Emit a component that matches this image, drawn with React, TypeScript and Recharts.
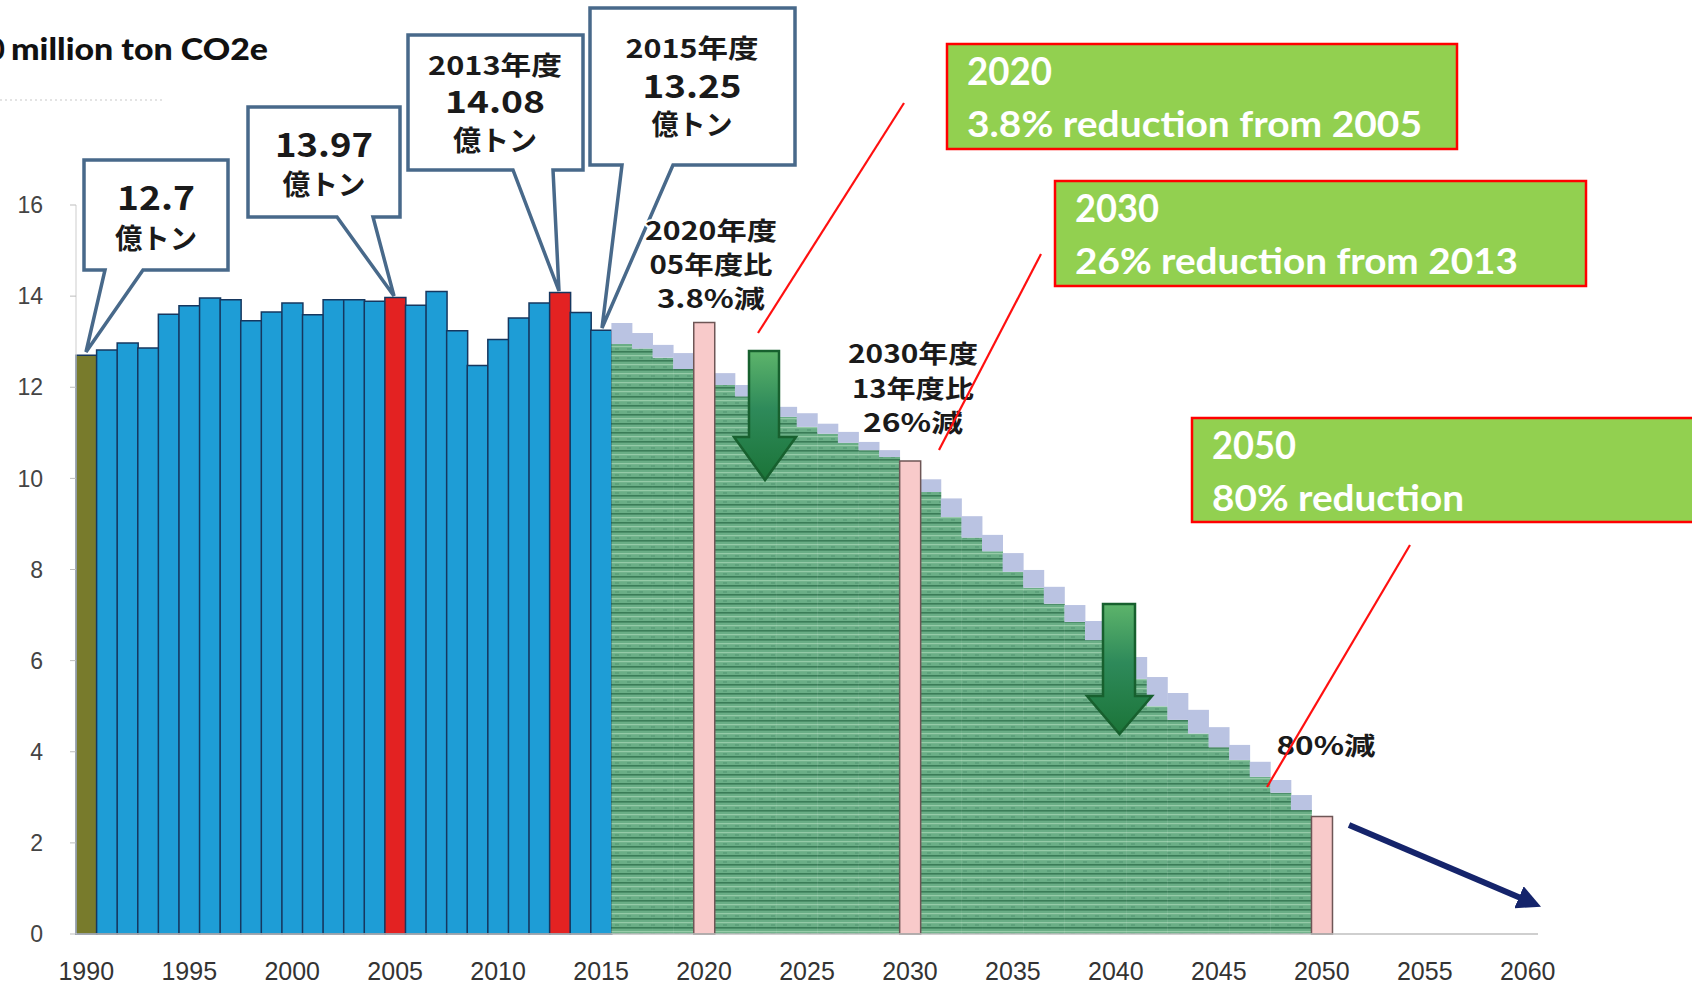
import React from 'react';
import { ComposedChart, Bar, XAxis, YAxis, Cell } from 'recharts';

// ---- data ----
const axisStartYear = 1990;
const axisEndYear = 2060;
const yTicks = [0, 2, 4, 6, 8, 10, 12, 14, 16];

const historicalYears = [
  1990, 1991, 1992, 1993, 1994, 1995, 1996, 1997, 1998, 1999, 2000, 2001, 2002,
  2003, 2004, 2005, 2006, 2007, 2008, 2009, 2010, 2011, 2012, 2013, 2014, 2015,
];
const historicalValues = [
  12.7, 12.82, 12.97, 12.86, 13.6, 13.79, 13.96, 13.92, 13.46, 13.65, 13.85, 13.59, 13.92,
  13.92, 13.89, 13.97, 13.8, 14.1, 13.24, 12.48, 13.05, 13.52, 13.85, 14.08, 13.64, 13.25,
];
const baseYear = 1990;
const highlightYears = [2005, 2013];

const pathwayYears = [
  2016, 2017, 2018, 2019, 2020, 2021, 2022, 2023, 2024, 2025, 2026, 2027, 2028, 2029,
  2030, 2031, 2032, 2033, 2034, 2035, 2036, 2037, 2038, 2039, 2040, 2041, 2042, 2043,
  2044, 2045, 2046, 2047, 2048, 2049,
];
const pathwayCore = [
  12.95, 12.85, 12.65, 12.4, null, 12.05, 11.8, 11.57, 11.35, 11.13, 10.98, 10.78, 10.62, 10.47,
  null, 9.7, 9.15, 8.7, 8.4, 7.95, 7.6, 7.25, 6.85, 6.45, 6.05, 5.6, 5.0, 4.7,
  4.4, 4.1, 3.82, 3.45, 3.1, 2.72,
];
const pathwayUpper = [
  13.41, 13.19, 12.93, 12.75, null, 12.31, 12.05, 11.79, 11.57, 11.43, 11.2, 11.02, 10.8, 10.62,
  null, 9.98, 9.56, 9.17, 8.76, 8.36, 7.99, 7.62, 7.22, 6.87, 6.45, 6.08, 5.64, 5.29,
  4.92, 4.54, 4.15, 3.78, 3.38, 3.05,
];

const milestoneYears = [2020, 2030, 2050];
const milestoneValues = [13.42, 10.38, 2.58];

// ---- table for recharts ----
const years: number[] = [];
for (let y = axisStartYear; y <= axisEndYear; y++) years.push(y);

const data = years.map((year) => {
  const hi = historicalYears.indexOf(year);
  const pi = pathwayYears.indexOf(year);
  const mi = milestoneYears.indexOf(year);
  const core = pi >= 0 ? pathwayCore[pi] : null;
  const upper = pi >= 0 ? pathwayUpper[pi] : null;
  return {
    year,
    hist: hi >= 0 ? historicalValues[hi] : null,
    core,
    fringe: core != null && upper != null ? Math.round((upper - core) * 1000) / 1000 : null,
    goal: mi >= 0 ? milestoneValues[mi] : null,
  };
});

const histColor = (year: number) =>
  year === baseYear ? '#787B2C' : highlightYears.includes(year) ? '#E32222' : '#1E9DD6';

// ---- annotation helpers ----
const bubblePath = (
  x0: number, y0: number, x1: number, y1: number,
  b0: number, b1: number, tx: number, ty: number,
) => `M${x0},${y0} H${x1} V${y1} H${b1} L${tx},${ty} L${b0},${y1} H${x0} Z`;

const JP = '"Noto Sans CJK JP", "Noto Sans CJK SC", sans-serif';
const LAT = 'Lato, "Open Sans", sans-serif';

type TL = { t: string; x: number; y: number; s: number; w: number };

const BubbleText = ({ lines }: { lines: TL[] }) => (
  <>
    {lines.map((l, i) => (
      <text
        key={i}
        x={l.x}
        y={l.y}
        fontSize={l.s}
        fontFamily={JP}
        fontWeight={700}
        fill="#1a1a1a"
        textAnchor="middle"
        textLength={l.w}
        lengthAdjust="spacingAndGlyphs"
      >
        {l.t}
      </text>
    ))}
  </>
);

const HaloText = ({ lines }: { lines: TL[] }) => (
  <>
    {lines.map((l, i) => (
      <text
        key={i}
        x={l.x}
        y={l.y}
        fontSize={l.s}
        fontFamily={JP}
        fontWeight={700}
        fill="#1a1a1a"
        stroke="#ffffff"
        strokeWidth={4}
        paintOrder="stroke"
        textAnchor="middle"
        textLength={l.w}
        lengthAdjust="spacingAndGlyphs"
      >
        {l.t}
      </text>
    ))}
  </>
);

const GreenBox = ({
  x, y, w, h, l1, l2, w1, w2,
}: { x: number; y: number; w: number; h: number; l1: string; l2: string; w1: number; w2: number }) => (
  <g>
    <rect x={x} y={y} width={w} height={h} fill="#92D050" stroke="#FF0000" strokeWidth={2.5} />
    <text x={x + 20} y={y + 41} fontSize={38} fontFamily={LAT} fontWeight={700} fill="#ffffff"
      textLength={w1} lengthAdjust="spacingAndGlyphs">{l1}</text>
    <text x={x + 20} y={y + 93} fontSize={37} fontFamily={LAT} fontWeight={700} fill="#ffffff"
      textLength={w2} lengthAdjust="spacingAndGlyphs">{l2}</text>
  </g>
);

const DownArrow = ({
  sx0, sx1, top, hx0, hx1, hy, tip, id,
}: { sx0: number; sx1: number; top: number; hx0: number; hx1: number; hy: number; tip: number; id: string }) => {
  const cx = (hx0 + hx1) / 2;
  return (
    <g>
      <defs>
        <linearGradient id={id} x1="0" y1="0" x2="0" y2="1">
          <stop offset="0%" stopColor="#5DB46B" />
          <stop offset="45%" stopColor="#2E8A5A" />
          <stop offset="100%" stopColor="#1B7438" />
        </linearGradient>
      </defs>
      <path
        d={`M${sx0},${top} H${sx1} V${hy} H${hx1} L${cx},${tip} L${hx0},${hy} H${sx0} Z`}
        fill={`url(#${id})`}
        stroke="#17602E"
        strokeWidth={2.5}
      />
    </g>
  );
};

export default function App() {
  return (
    <div style={{ position: 'absolute', left: 0, top: 0, width: 1692, height: 984, overflow: 'hidden', background: '#fff' }}>
      <ComposedChart
        width={1692}
        height={984}
        data={data}
        margin={{ top: 205, right: 154, bottom: 0, left: 0 }}
        barCategoryGap={0}
        barGap={0}
      >
        <defs>
          <pattern id="greenStripes" patternUnits="userSpaceOnUse" width="12" height="9">
            <rect x="0" y="0" width="12" height="9" fill="#6AAE86" />
            <rect x="0" y="0" width="12" height="1.6" fill="#3A7C57" />
            <rect x="0" y="4" width="12" height="1.2" fill="#96CBA8" />
            <rect x="3" y="6.5" width="4" height="1" fill="#4F9470" />
          </pattern>
        </defs>
        <XAxis
          dataKey="year"
          type="category"
          interval={4}
          height={50}
          tickLine={false}
          tickSize={0}
          tickMargin={28}
          axisLine={{ stroke: '#BFBFBF', strokeWidth: 1.5 }}
          tick={{ fontSize: 25, fill: '#333333', fontFamily: '"Liberation Sans", Arial, sans-serif' }}
        />
        <YAxis
          type="number"
          domain={[0, 16]}
          ticks={yTicks}
          width={76}
          tickSize={6}
          tickMargin={27}
          axisLine={{ stroke: '#D5D5D5', strokeWidth: 1.2 }}
          tickLine={{ stroke: '#BDBDBD' }}
          tick={{ fontSize: 23, fill: '#444444', fontFamily: '"Liberation Sans", Arial, sans-serif' }}
        />
        <Bar dataKey="hist" stackId="s" isAnimationActive={false} stroke="#16375F" strokeWidth={1.5}>
          {data.map((d) => (
            <Cell key={d.year} fill={histColor(d.year)} />
          ))}
        </Bar>
        <Bar dataKey="core" stackId="s" isAnimationActive={false} fill="url(#greenStripes)" />
        <Bar dataKey="fringe" stackId="s" isAnimationActive={false} fill="#BAC3E2" />
        <Bar dataKey="goal" stackId="s" isAnimationActive={false} fill="#F8CACA" stroke="#6E5656" strokeWidth={1.5} />
      </ComposedChart>

      <svg
        width={1692}
        height={984}
        style={{ position: 'absolute', left: 0, top: 0, pointerEvents: 'none' }}
      >
        <defs>
          <marker id="navyHead" markerWidth="4" markerHeight="4" refX="2" refY="2" orient="auto" markerUnits="strokeWidth">
            <path d="M0,0 L4,2 L0,4 Z" fill="#15246B" />
          </marker>
        </defs>

        {/* unit title */}
        <text x={5} y={60} fontSize={30} fontFamily={LAT} fontWeight={700} fill="#111" textAnchor="end">0</text>
        <text x={11} y={60} fontSize={30} fontFamily={LAT} fontWeight={900} fill="#111"
          textLength={257} lengthAdjust="spacingAndGlyphs">million ton CO2e</text>
        <line x1={0} y1={100} x2={165} y2={100} stroke="#DADADA" strokeWidth={1.5} strokeDasharray="2 3" />

        {/* speech bubbles */}
        <path d={bubblePath(84, 160, 228, 270, 105, 143, 86, 352)} fill="#fff" stroke="#48698A" strokeWidth={3.5} />
        <BubbleText lines={[
          { t: '12.7', x: 156, y: 210, s: 33, w: 78 },
          { t: '億トン', x: 156, y: 249, s: 28, w: 82 },
        ]} />

        <path d={bubblePath(248, 107, 400, 217, 337, 373, 394, 296)} fill="#fff" stroke="#48698A" strokeWidth={3.5} />
        <BubbleText lines={[
          { t: '13.97', x: 324, y: 157, s: 33, w: 98 },
          { t: '億トン', x: 324, y: 195, s: 28, w: 83 },
        ]} />

        <path d={bubblePath(408, 35, 583, 170, 513, 553, 559, 291)} fill="#fff" stroke="#48698A" strokeWidth={3.5} />
        <BubbleText lines={[
          { t: '2013年度', x: 495, y: 75, s: 26, w: 134 },
          { t: '14.08', x: 495, y: 113, s: 31, w: 100 },
          { t: '億トン', x: 495, y: 151, s: 28, w: 84 },
        ]} />

        <path d={bubblePath(590, 8, 795, 165, 622, 673, 602, 328)} fill="#fff" stroke="#48698A" strokeWidth={3.5} />
        <BubbleText lines={[
          { t: '2015年度', x: 692, y: 58, s: 26, w: 133 },
          { t: '13.25', x: 692, y: 98, s: 32, w: 99 },
          { t: '億トン', x: 692, y: 135, s: 28, w: 81 },
        ]} />

        {/* target notes */}
        <HaloText lines={[
          { t: '2020年度', x: 711, y: 240, s: 25, w: 132 },
          { t: '05年度比', x: 711, y: 274, s: 25, w: 123 },
          { t: '3.8%減', x: 711, y: 308, s: 25, w: 108 },
        ]} />
        <HaloText lines={[
          { t: '2030年度', x: 913, y: 363, s: 25, w: 130 },
          { t: '13年度比', x: 913, y: 398, s: 25, w: 122 },
          { t: '26%減', x: 913, y: 432, s: 25, w: 100 },
        ]} />
        <HaloText lines={[{ t: '80%減', x: 1326, y: 755, s: 25, w: 99 }]} />

        {/* green down arrows */}
        <DownArrow id="ga1" sx0={749} sx1={779} top={351} hx0={734} hx1={796} hy={437} tip={480} />
        <DownArrow id="ga2" sx0={1103} sx1={1135} top={604} hx0={1087} hx1={1152} hy={696} tip={734} />

        {/* navy arrow after 2050 */}
        <line x1={1349} y1={825} x2={1530} y2={902} stroke="#15246B" strokeWidth={6} markerEnd="url(#navyHead)" />

        {/* English call-out boxes */}
        <GreenBox x={947} y={44} w={510} h={105} l1="2020" l2="3.8% reduction from 2005" w1={85} w2={455} />
        <GreenBox x={1055} y={181} w={531} h={105} l1="2030" l2="26% reduction from 2013" w1={84} w2={443} />
        <GreenBox x={1192} y={418} w={520} h={104} l1="2050" l2="80% reduction" w1={84} w2={252} />

        {/* red leader lines */}
        <line x1={904} y1={103} x2={758} y2={333} stroke="#FF1010" strokeWidth={2.2} />
        <line x1={1041} y1={254} x2={939} y2={450} stroke="#FF1010" strokeWidth={2.2} />
        <line x1={1410} y1={545} x2={1267} y2={787} stroke="#FF1010" strokeWidth={2.2} />
      </svg>
    </div>
  );
}
